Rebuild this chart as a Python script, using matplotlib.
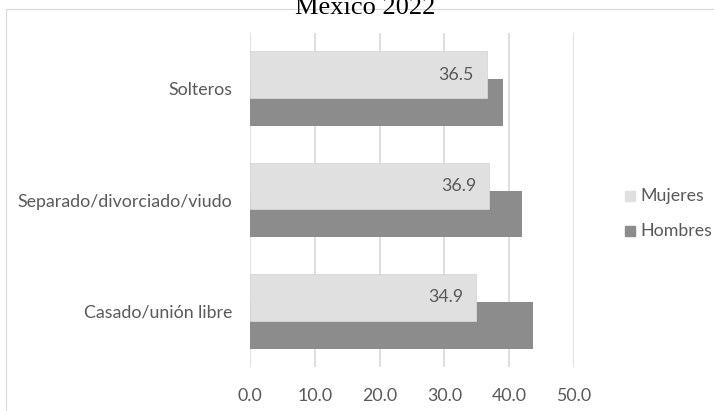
import matplotlib
matplotlib.use('Agg')
from matplotlib import pyplot as plt
import numpy as np

categorias = ['Solteros', 'Separado/divorciado/viudo', 'Casado/unión libre']
mujeres = [36.5, 36.9, 34.9]
hombres = [39.0, 42.0, 43.7]
ticks_x = [0, 10, 20, 30, 40, 50]

plt.rcParams['font.family'] = ['Lato', 'DejaVu Sans']
gris_texto = '#595959'
tam = 12.8

fig = plt.figure(figsize=(7.14, 4.11), dpi=100)
ax = fig.add_axes([250 / 714, 1 - 367 / 411, 324 / 714, 334 / 411])

y = np.arange(len(categorias))
alto = 0.42
desp = 0.126

# hombres primero, mujeres se dibujan encima (barras solapadas)
ax.barh(y + desp, hombres, height=alto, color='#8c8c8c', zorder=2)
ax.barh(y - desp, mujeres, height=alto, color='#e0e0e0',
        edgecolor='#d6d6d6', linewidth=0.6, zorder=3)

for yi, v in zip(y, mujeres):
    ax.text(v - 2.0, yi - desp, f'{v:.1f}', ha='right', va='center',
            fontsize=tam, color=gris_texto, zorder=4)

ax.set_xlim(0, 50)
ax.set_ylim(2.5, -0.5)
ax.set_xticks(ticks_x)
ax.set_xticklabels([f'{t:.1f}' for t in ticks_x])
ax.set_yticks(y)
ax.set_yticklabels(categorias)
ax.tick_params(axis='both', length=0, labelsize=tam, colors=gris_texto)
ax.tick_params(axis='x', pad=15)
ax.tick_params(axis='y', pad=13)
ax.xaxis.grid(True, color='#d9d9d9', linewidth=1.2, zorder=0)
ax.set_axisbelow(True)
for s in ax.spines.values():
    s.set_visible(False)

# leyenda a la derecha
fig.patches.append(plt.Rectangle((625 / 714, 1 - 201 / 411), 10 / 714, 10 / 411,
                                 transform=fig.transFigure, color='#e0e0e0'))
fig.patches.append(plt.Rectangle((625 / 714, 1 - 236 / 411), 10 / 714, 10 / 411,
                                 transform=fig.transFigure, color='#8c8c8c'))
fig.text(640 / 714, 1 - 196 / 411, 'Mujeres', fontsize=tam, color=gris_texto, va='center')
fig.text(640 / 714, 1 - 231 / 411, 'Hombres', fontsize=tam, color=gris_texto, va='center')

# borde del área del gráfico
fig.add_artist(plt.Line2D([6 / 714, 1], [1 - 9 / 411, 1 - 9 / 411],
                          transform=fig.transFigure, color='#d9d9d9', linewidth=0.8))
fig.add_artist(plt.Line2D([6 / 714, 6 / 714], [0, 1 - 9 / 411],
                          transform=fig.transFigure, color='#d9d9d9', linewidth=0.8))

fig.text(365 / 714, 1 - 14 / 411, 'Mexico 2022', ha='center', va='baseline',
         fontsize=19, family=['Liberation Serif'], color='black')

fig.savefig('out.png', dpi=100)
